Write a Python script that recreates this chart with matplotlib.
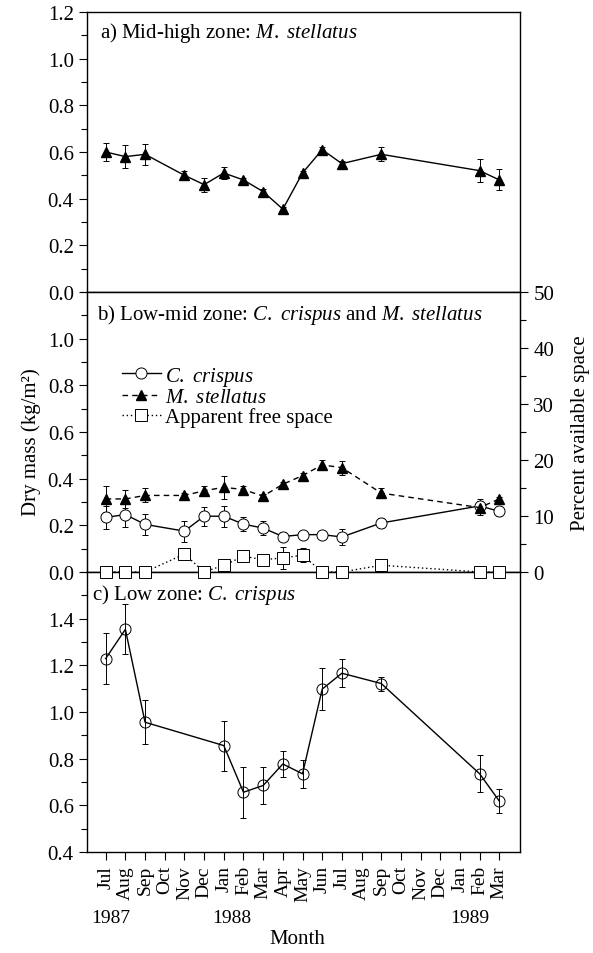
import matplotlib.pyplot as plt
from matplotlib.ticker import MultipleLocator

plt.rcParams["font.family"] = ["Liberation Serif", "DejaVu Serif"]
plt.rcParams["mathtext.fontset"] = "custom"
plt.rcParams["mathtext.rm"] = "Liberation Serif"
plt.rcParams["mathtext.it"] = "Liberation Serif:italic"

# month axis, Jul 1987 .. Mar 1989
months = ["Jul", "Aug", "Sep", "Oct", "Nov", "Dec", "Jan", "Feb", "Mar", "Apr",
          "May", "Jun", "Jul", "Aug", "Sep", "Oct", "Nov", "Dec", "Jan", "Feb", "Mar"]
years = ["1987", "1988", "1989"]
year_pos = [0.25, 6.4, 18.5]

# sampling months (index into months)
sample_ab = [0, 1, 2, 4, 5, 6, 7, 8, 9, 10, 11, 12, 14, 19, 20]
sample_c = [0, 1, 2, 6, 7, 8, 9, 10, 11, 12, 14, 19, 20]

# a) mid-high zone, M. stellatus (kg/m2)
a_stell = [0.60, 0.58, 0.59, 0.50, 0.46, 0.51, 0.48, 0.43, 0.355, 0.51, 0.61, 0.55, 0.59, 0.52, 0.48]
a_stell_err = [0.04, 0.05, 0.045, 0.02, 0.03, 0.025, 0.01, 0.01, 0.01, 0.01, 0.01, 0.01, 0.03, 0.05, 0.045]

# b) low-mid zone
b_crisp = [0.234, 0.246, 0.204, 0.175, 0.239, 0.239, 0.205, 0.188, 0.152, 0.16, 0.16, 0.15, 0.21, 0.283, 0.26]
b_crisp_err = [0.05, 0.055, 0.045, 0.045, 0.04, 0.045, 0.03, 0.03, 0.02, 0.015, 0.015, 0.035, 0.02, 0.03, 0.02]
b_stell = [0.313, 0.313, 0.328, 0.328, 0.348, 0.363, 0.353, 0.325, 0.376, 0.413, 0.459, 0.447, 0.338, 0.276, 0.313]
b_stell_err = [0.055, 0.04, 0.03, 0.01, 0.02, 0.05, 0.015, 0.01, 0.01, 0.01, 0.02, 0.03, 0.02, 0.03, 0.01]
b_free = [0, 0, 0, 3.2, 0, 1.2, 2.8, 2.2, 2.5, 3.0, 0, 0, 1.2, 0, 0]
b_free_err = [0, 0, 0, 0.5, 0, 0.5, 0.5, 0.8, 2.0, 1.3, 0, 0, 0.5, 0, 0]

# c) low zone, C. crispus
c_crisp = [1.229, 1.354, 0.956, 0.856, 0.656, 0.685, 0.777, 0.735, 1.098, 1.166, 1.122, 0.735, 0.618]
c_crisp_err = [0.11, 0.107, 0.095, 0.107, 0.11, 0.08, 0.057, 0.06, 0.09, 0.06, 0.03, 0.08, 0.05]

FS = 15
fig = plt.figure(figsize=(5.93, 9.54), dpi=100)
L, W, H = 0.1467, 0.7302, 0.2935
ax_a = fig.add_axes([L, 0.6929, W, H])
ax_b = fig.add_axes([L, 0.3994, W, H])
ax_c = fig.add_axes([L, 0.1059, W, H])

err_kw = dict(fmt="none", ecolor="black", elinewidth=0.7, capsize=2, capthick=0.7)

for ax in (ax_a, ax_b, ax_c):
    ax.set_xlim(-0.95, 21.05)
    ax.set_xticks(range(len(months)))
    ax.tick_params(axis="x", direction="out", length=6, width=0.8, labelbottom=False)
    ax.tick_params(axis="y", which="major", direction="out", length=6, width=0.8, labelsize=FS)
    ax.tick_params(axis="y", which="minor", direction="out", length=4, width=0.8)
    ax.yaxis.set_minor_locator(MultipleLocator(0.1))
    for s in ax.spines.values():
        s.set_linewidth(1.0)

# panel a
ax_a.set_ylim(0, 1.2)
ax_a.set_yticks([0, 0.2, 0.4, 0.6, 0.8, 1.0, 1.2])
ax_a.set_yticklabels(["0.0", "0.2", "0.4", "0.6", "0.8", "1.0", "1.2"])
ax_a.errorbar(sample_ab, a_stell, yerr=a_stell_err, **err_kw)
ax_a.plot(sample_ab, a_stell, "-^", color="black", lw=1, ms=7.5)
ax_a.text(0.03, 0.93, r"a) Mid-high zone: $\mathit{M.\ stellatus}$", transform=ax_a.transAxes,
          fontsize=FS, va="center", ha="left")

# panel b
ax_b.set_ylim(0, 1.2)
ax_b.set_yticks([0, 0.2, 0.4, 0.6, 0.8, 1.0])
ax_b.set_yticklabels(["0.0", "0.2", "0.4", "0.6", "0.8", "1.0"])
ax_b.errorbar(sample_ab, b_crisp, yerr=b_crisp_err, **err_kw)
ax_b.errorbar(sample_ab, b_stell, yerr=b_stell_err, **err_kw)
l1, = ax_b.plot(sample_ab, b_crisp, "-o", color="black", lw=1, ms=8, mfc="white", mew=0.7)
l2, = ax_b.plot(sample_ab, b_stell, marker="^", ls=(0, (4, 3)), color="black", lw=1, ms=7.5)
ax_b.text(0.023, 0.92, r"b) Low-mid zone: $\mathit{C.\ crispus}$ and $\mathit{M.\ stellatus}$",
          transform=ax_b.transAxes, fontsize=FS, va="center", ha="left")

ax_b2 = ax_b.twinx()
ax_b2.set_ylim(0, 50)
ax_b2.set_yticks([0, 10, 20, 30, 40, 50])
ax_b2.yaxis.set_minor_locator(MultipleLocator(5))
ax_b2.tick_params(axis="y", which="major", direction="out", length=6, width=0.8, labelsize=FS)
ax_b2.tick_params(axis="y", which="minor", direction="out", length=4, width=0.8)
ax_b2.errorbar(sample_ab, b_free, yerr=b_free_err, **err_kw)
l3, = ax_b2.plot(sample_ab, b_free, marker="s", ls=(0, (1, 2)), color="black", lw=1, ms=8,
                 mfc="white", mew=0.7, clip_on=False, zorder=4)
ax_b2.set_ylabel("Percent available space", fontsize=FS, labelpad=12)

ax_b2.legend([l1, l2, l3],
             [r"$\mathit{C.\ crispus}$", r"$\mathit{M.\ stellatus}$", "Apparent free space"],
             loc="upper left", bbox_to_anchor=(0.08, 0.74), frameon=False, fontsize=FS,
             handlelength=1.9, handletextpad=0.2, labelspacing=0.0, borderpad=0, borderaxespad=0)

# panel c
ax_c.set_ylim(0.4, 1.6)
ax_c.set_yticks([0.4, 0.6, 0.8, 1.0, 1.2, 1.4])
ax_c.set_yticklabels(["0.4", "0.6", "0.8", "1.0", "1.2", "1.4"])
ax_c.errorbar(sample_c, c_crisp, yerr=c_crisp_err, **err_kw)
ax_c.plot(sample_c, c_crisp, "-o", color="black", lw=1, ms=8, mfc="none", mew=0.7)
ax_c.text(0.012, 0.92, r"c) Low zone: $\mathit{C.\ crispus}$", transform=ax_c.transAxes,
          fontsize=FS, va="center", ha="left")
ax_c.tick_params(axis="x", labelbottom=True, labelsize=14, labelrotation=90)
ax_c.set_xticklabels(months)

for y, p in zip(years, year_pos):
    ax_c.text(p, -0.235, y, transform=ax_c.get_xaxis_transform(), fontsize=14,
              ha="center", va="center")

fig.text(297 / 593, 1 - 940 / 954, "Month", fontsize=FS, ha="center", va="center")
fig.text(31 / 593, 1 - 442 / 954, "Dry mass (kg/m²)", fontsize=FS, ha="center",
         va="center", rotation=90)

fig.savefig("out.png", dpi=100)
